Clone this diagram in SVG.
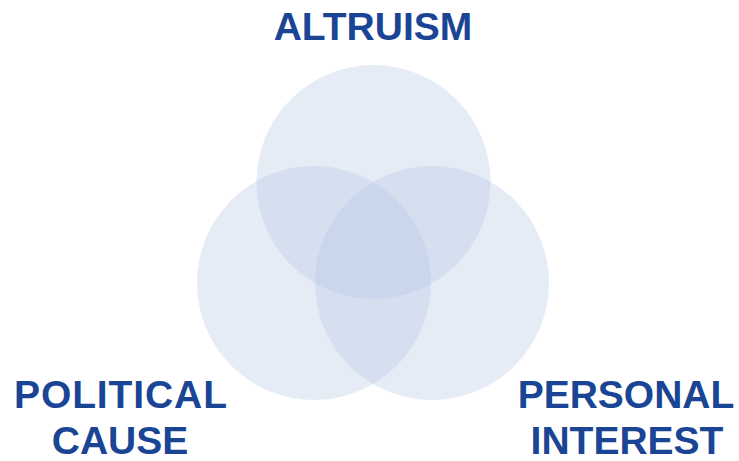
<svg xmlns="http://www.w3.org/2000/svg" width="739" height="461" viewBox="0 0 739 461">
<style>
.c{fill:#b1c4e3;fill-opacity:0.32}
.t{font-family:"Liberation Sans",Arial,sans-serif;font-weight:bold;fill:#1a4494;text-anchor:middle;font-size:39px}
</style>
<rect width="739" height="461" fill="#fff"/>
<g id="altruism">
<circle class="c" cx="373.5" cy="182" r="117"/>
<text class="t" x="373" y="40">ALTRUISM</text>
</g>
<g id="political-cause">
<circle class="c" cx="314" cy="283" r="117"/>
<text class="t" x="120.5" y="408" textLength="213" lengthAdjust="spacing">POLITICAL</text>
<text class="t" x="120" y="454">CAUSE</text>
</g>
<g id="personal-interest">
<circle class="c" cx="432" cy="283" r="117"/>
<text class="t" x="626" y="408">PERSONAL</text>
<text class="t" x="627" y="454">INTEREST</text>
</g>
<g id="connectors"></g>
</svg>
